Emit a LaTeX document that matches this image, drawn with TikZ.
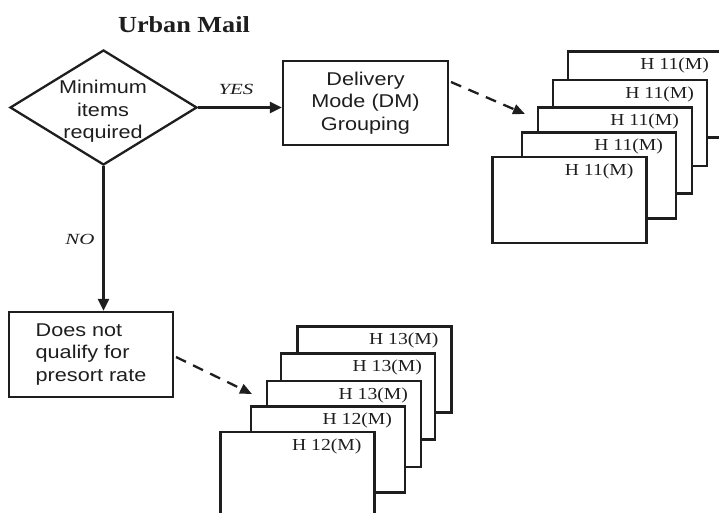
\documentclass[tikz,border=0pt]{standalone}
\usepackage{fontspec}
\setmainfont{Liberation Serif}
\newfontfamily\sfx[FakeStretch=1.17]{Liberation Sans}
\newfontfamily\serx[FakeStretch=1.17]{Liberation Serif}
\newfontfamily\titlef[FakeStretch=1.14]{Liberation Serif}
\newfontfamily\yesf[FakeStretch=1.35]{Liberation Serif}
\usetikzlibrary{shapes.geometric,arrows.meta}
\definecolor{ink}{HTML}{1E1E1E}
\tikzset{
  lw/.style={line width=2.3pt, draw=ink},
  sanstext/.style={font=\sfx\fontsize{18.5pt}{22.5pt}\selectfont, inner sep=0pt, text=ink},
  decision/.style={diamond, draw, lw, inner sep=0pt, minimum width=187pt, minimum height=115pt},
  procbox/.style={rectangle, draw, lw, inner sep=0pt, sanstext},
  sheet/.style={rectangle, draw, lw, fill=white, inner sep=0pt, minimum width=154pt, minimum height=86pt},
  sheetlabel/.style={font=\serx\fontsize{16.8pt}{18pt}\selectfont, inner sep=0pt, anchor=base east, text=ink},
  branch/.style={font=\yesf\itshape\fontsize{15.5pt}{17pt}\selectfont, inner sep=0pt, text=ink},
  solidarrow/.style={lw, -{Triangle[length=12pt,width=11pt]}},
  dasharrow/.style={lw, dash pattern=on 11pt off 8pt, -{Triangle[length=12pt,width=10pt]}}
}
\begin{document}
\begin{tikzpicture}[x=1pt,y=-1pt]
\useasboundingbox (0,0) rectangle (719,513);
\clip (0,0) rectangle (719,513);

% title
\node[font=\titlef\bfseries\fontsize{23pt}{26pt}\selectfont, inner sep=0pt, anchor=base, text=ink] (title) at (184,33) {Urban Mail};

% decision
\node[decision] (dec) at (103.5,107.5) {};
\node[sanstext, align=center] (dect) at (103,111.5) {Minimum\\items\\required};

% delivery mode box
\node[procbox, minimum width=165pt, minimum height=84pt, align=center] (dm) at (365.5,103) {Delivery\\Mode (DM)\\Grouping};

% does not qualify box
\node[procbox, minimum width=164pt, minimum height=85pt, align=left] (nq) at (91,354.5) {Does not\\qualify for\\presort rate};

% solid arrows
\draw[solidarrow] (dec.east) -- (dm.west |- dec.east);
\node[branch] (yes) at (236,89) {YES};
\draw[solidarrow] (dec.south) -- (dec.south |- nq.north);
\node[branch] (no) at (80,239) {NO};

% stack 1 (H 11)
\node[sheet] (a1) at (645,94.5) {};
\node[sheetlabel] (la1) at ([shift={(-14,19.5)}]a1.north east) {H 11(M)};
\node[sheet] (a2) at (630,123) {};
\node[sheetlabel] (la2) at ([shift={(-14,19.5)}]a2.north east) {H 11(M)};
\node[sheet] (a3) at (615,150.5) {};
\node[sheetlabel] (la3) at ([shift={(-14,19.5)}]a3.north east) {H 11(M)};
\node[sheet] (a4) at (599,175.5) {};
\node[sheetlabel] (la4) at ([shift={(-14,19.5)}]a4.north east) {H 11(M)};
\node[sheet] (a5) at (569.5,200) {};
\node[sheetlabel] (la5) at ([shift={(-14,19.5)}]a5.north east) {H 11(M)};

% stack 2 (H 12/13)
\node[sheet] (b1) at (374.5,369.5) {};
\node[sheetlabel] (lb1) at ([shift={(-14,19.5)}]b1.north east) {H 13(M)};
\node[sheet] (b2) at (358,396.5) {};
\node[sheetlabel] (lb2) at ([shift={(-14,19.5)}]b2.north east) {H 13(M)};
\node[sheet] (b3) at (344,424) {};
\node[sheetlabel] (lb3) at ([shift={(-14,19.5)}]b3.north east) {H 13(M)};
\node[sheet] (b4) at (328,449.5) {};
\node[sheetlabel] (lb4) at ([shift={(-14,19.5)}]b4.north east) {H 12(M)};
\node[sheet] (b5) at (297.5,475) {};
\node[sheetlabel] (lb5) at ([shift={(-14,19.5)}]b5.north east) {H 12(M)};

% dashed arrows
\coordinate (s1) at (451,82);
\coordinate (t1) at (525,114);
\draw[dasharrow] (s1) -- (t1);
\coordinate (s2) at (176,357);
\coordinate (t2) at (252,394);
\draw[dasharrow] (s2) -- (t2);
\end{tikzpicture}
\end{document}
